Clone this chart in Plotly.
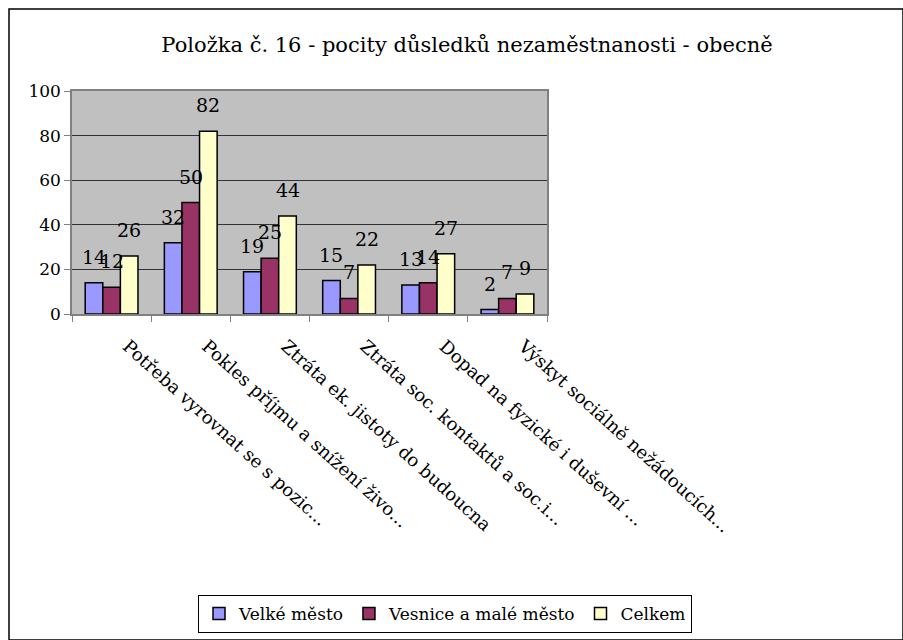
import plotly.graph_objects as go

categories = [
    "Potřeba vyrovnat se s pozic...",
    "Pokles příjmu a snížení živo...",
    "Ztráta ek. jistoty do budoucna",
    "Ztráta soc. kontaktů a soc.i...",
    "Dopad na fyzické i duševní ...",
    "Výskyt sociálně nežádoucích...",
]
series_names = ["Velké město", "Vesnice a malé město", "Celkem"]
velke_mesto = [14, 32, 19, 15, 13, 2]
vesnice = [12, 50, 25, 7, 14, 7]
celkem = [26, 82, 44, 22, 27, 9]
series_values = [velke_mesto, vesnice, celkem]
colors = ["#9999FF", "#993366", "#FFFFCC"]
y_ticks = [0, 20, 40, 60, 80, 100]

FONT = "DejaVu Serif"

fig = go.Figure()
for name, vals, col in zip(series_names, series_values, colors):
    fig.add_trace(go.Bar(
        name=name, x=categories, y=vals,
        marker=dict(color=col, line=dict(color="black", width=1.5)),
    ))

L, R, T, B = 72, 356, 91, 326
W = 903 - L - R
H = 640 - T - B
cat_w = W / len(categories)
bar_w = cat_w / 4.5
annotations = []
for i, vals in enumerate(series_values):
    for c, v in zip(categories, vals):
        annotations.append(dict(
            x=c, y=v, xref="x", yref="y", text=str(v), showarrow=False,
            xshift=(i - 1) * bar_w, yanchor="bottom", yshift=13,
            font=dict(family=FONT, size=19, color="black"),
        ))

fig.update_layout(
    width=903, height=640,
    margin=dict(l=L, r=R, t=T, b=B, autoexpand=False),
    paper_bgcolor="white", plot_bgcolor="#C0C0C0",
    barmode="group", bargap=1.5 / 4.5, bargroupgap=0,
    font=dict(family=FONT, size=18, color="black"),
    title=dict(text="Položka č. 16 - pocity důsledků nezaměstnanosti - obecně",
               x=467 / 903, xref="container", xanchor="center",
               y=1 - 45 / 640, yref="container", yanchor="middle",
               font=dict(family=FONT, size=21, color="black")),
    showlegend=True,
    legend=dict(orientation="h", xref="paper", x=(692 - L) / W, xanchor="right",
                yref="paper", y=(640 - B - 595) / H, yanchor="top",
                bgcolor="white", bordercolor="black", borderwidth=1,
                font=dict(family=FONT, size=17, color="black"),
                traceorder="normal", itemwidth=30),
    annotations=annotations,
)
fig.update_yaxes(range=[0, 100], tickvals=y_ticks, showgrid=True,
                 gridcolor="#333333", gridwidth=1, ticks="outside", ticklen=6,
                 tickcolor="#808080", showline=True, linecolor="#808080",
                 linewidth=1.5, mirror=True, zeroline=False,
                 tickfont=dict(family=FONT, size=17, color="black"))
fig.update_xaxes(tickangle=42, ticks="outside", tickson="boundaries", ticklen=6,
                 tickcolor="#808080", showline=True, linecolor="#808080",
                 linewidth=1.5, mirror=True, showgrid=False, automargin=False,
                 ticklabelshift=16, ticklabelstandoff=13,
                 tickfont=dict(family=FONT, size=18, color="black"))

fig.add_shape(type="rect", xref="paper", yref="paper",
              x0=(9 - L) / W, x1=(903 - L) / W,
              y0=(640 - B - 640) / H, y1=(640 - B - 9) / H,
              line=dict(color="black", width=1.5), layer="below")

fig.write_html("out.html", config={"displayModeBar": False},
               post_script="document.body.style.margin='0';document.body.style.padding='0';"
                           "document.documentElement.style.overflow='hidden';")
